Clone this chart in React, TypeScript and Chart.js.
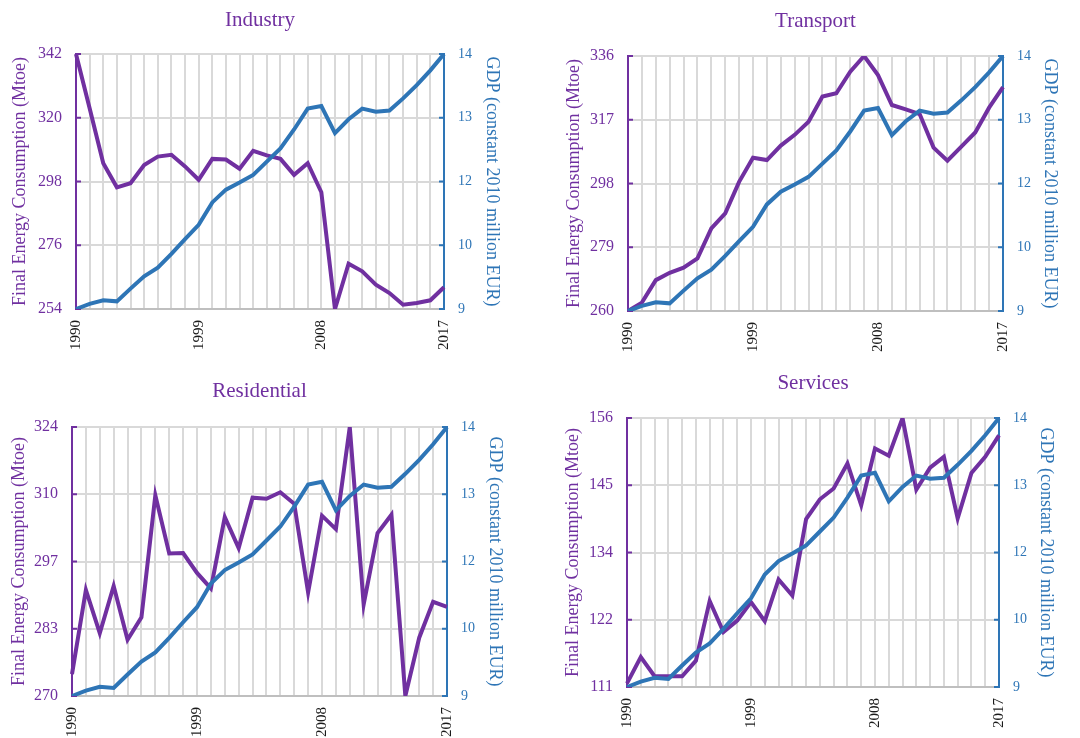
import React, { useEffect, useRef } from 'react';
import { Chart, registerables } from 'chart.js';

Chart.register(...registerables);

// ---------------- data ----------------
const years = ['1990', '1991', '1992', '1993', '1994', '1995', '1996', '1997', '1998', '1999', '2000', '2001', '2002', '2003', '2004', '2005', '2006', '2007', '2008', '2009', '2010', '2011', '2012', '2013', '2014', '2015', '2016', '2017'];
const shownYears = ['1990', '1999', '2008', '2017'];

const gdp = [9.0, 9.1, 9.17, 9.15, 9.4, 9.64, 9.81, 10.08, 10.37, 10.65, 11.09, 11.34, 11.48, 11.63, 11.89, 12.15, 12.52, 12.93, 12.98, 12.45, 12.72, 12.93, 12.87, 12.89, 13.13, 13.39, 13.68, 14.0];

const industry = [342, 323.3, 304.3, 296, 297.4, 303.7, 306.6, 307.2, 303.2, 298.6, 305.8, 305.6, 302.4, 308.6, 307, 305.8, 300.3, 304.3, 294.3, 254, 269.6, 267, 262.4, 259.5, 255.5, 256.1, 257, 261.5];
const transport = [260, 262.5, 269.2, 271.4, 272.9, 275.7, 284.6, 289.1, 298.5, 305.7, 305, 309.3, 312.5, 316.4, 323.9, 324.9, 331.3, 336, 330.3, 321.4, 320.1, 318.7, 308.7, 304.8, 309, 313.2, 320.6, 326.7];
const residential = [274.4, 291.3, 282.6, 292.1, 281.3, 285.8, 310.3, 298.6, 298.7, 294.7, 291.6, 305.9, 299.7, 309.8, 309.6, 310.9, 308.6, 290.8, 306.2, 303.5, 324, 288.4, 302.7, 306.4, 270, 281.7, 288.9, 287.9];
const services = [111.6, 116, 112.8, 112.8, 112.8, 115.4, 125.4, 120.2, 122.1, 125.2, 122, 129, 126.3, 139.1, 142.4, 144.2, 148.4, 141.4, 150.9, 149.7, 156, 144, 147.7, 149.5, 139.2, 146.8, 149.5, 153.1];

// tick values and labels
const gdpTickValues = [9, 10.25, 11.5, 12.75, 14];
const gdpTickLabels = ['9', '10', '12', '13', '14'];
const industryTickValues = [254, 276, 298, 320, 342];
const industryTickLabels = ['254', '276', '298', '320', '342'];
const transportTickValues = [260, 279, 298, 317, 336];
const transportTickLabels = ['260', '279', '298', '317', '336'];
const residentialTickValues = [270, 283.5, 297, 310.5, 324];
const residentialTickLabels = ['270', '283', '297', '310', '324'];
const servicesTickValues = [111, 122.25, 133.5, 144.75, 156];
const servicesTickLabels = ['111', '122', '134', '145', '156'];

const leftTitle = 'Final Energy Consumption (Mtoe)';
const rightTitle = 'GDP (constant 2010 million EUR)';

// ---------------- styles ----------------
const PURPLE = '#7030A0';
const BLUE = '#2E75B6';
const GRID = '#D9D9D9';
const FONT = "'Liberation Serif', 'Times New Roman', serif";

type Panel = {
  title: string;
  values: number[];
  tickValues: number[];
  tickLabels: string[];
  x: number; y: number;
  axisL: number; axisR: number; xH: number;
  tTop: number; tBottom: number;
  lPad: number; rPad: number;
};

const panels: Panel[] = [
  { title: 'Industry', values: industry, tickValues: industryTickValues, tickLabels: industryTickLabels,
    x: 0, y: 0, axisL: 76, axisR: 96, xH: 60, tTop: 7.4, tBottom: 21.4, lPad: 9.2, rPad: 37.2 },
  { title: 'Transport', values: transport, tickValues: transportTickValues, tickLabels: transportTickLabels,
    x: 540, y: 0, axisL: 88, axisR: 77, xH: 58, tTop: 8.4, tBottom: 22.4, lPad: 23.7, rPad: 19.7 },
  { title: 'Residential', values: residential, tickValues: residentialTickValues, tickLabels: residentialTickLabels,
    x: 0, y: 369, axisL: 72, axisR: 93, xH: 42, tTop: 10, tBottom: 22.8, lPad: 8.2, rPad: 34.7 },
  { title: 'Services', values: services, tickValues: servicesTickValues, tickLabels: servicesTickLabels,
    x: 540, y: 369, axisL: 87, axisR: 81, xH: 51, tTop: 2, tBottom: 21.8, lPad: 22.7, rPad: 23.7 },
];

const innerTicks = {
  id: 'innerTicks',
  beforeDatasetsDraw(chart: any) {
    const ctx = chart.ctx;
    const defs: [string, string, number][] = [['yL', PURPLE, 1], ['yR', BLUE, -1]];
    ctx.save();
    ctx.lineWidth = 2;
    for (const [id, color, dir] of defs) {
      const s = chart.scales[id];
      if (!s) continue;
      const x0 = id === 'yL' ? chart.chartArea.left : chart.chartArea.right;
      ctx.strokeStyle = color;
      s.ticks.forEach((t: any) => {
        const yy = s.getPixelForValue(t.value);
        ctx.beginPath();
        ctx.moveTo(x0, yy);
        ctx.lineTo(x0 + dir * 5, yy);
        ctx.stroke();
      });
    }
    ctx.restore();
  },
};

function PanelChart({ p }: { p: Panel }) {
  const ref = useRef<HTMLCanvasElement>(null);
  useEffect(() => {
    if (!ref.current) return;
    const chart = new Chart(ref.current, {
      type: 'line',
      data: {
        labels: years,
        datasets: [
          { label: 'GDP', data: gdp, yAxisID: 'yR', borderColor: BLUE, backgroundColor: BLUE,
            borderWidth: 4, pointRadius: 0, tension: 0, fill: false },
          { label: p.title, data: p.values, yAxisID: 'yL', borderColor: PURPLE, backgroundColor: PURPLE,
            borderWidth: 4, pointRadius: 0, tension: 0, fill: false },
        ],
      },
      options: {
        responsive: false,
        animation: false,
        devicePixelRatio: 1,
        layout: { padding: 0 },
        plugins: {
          legend: { display: false },
          tooltip: { enabled: false },
          title: {
            display: true, text: p.title, color: PURPLE, fullSize: false,
            font: { family: FONT, size: 21, weight: 'normal', lineHeight: 1.2 },
            padding: { top: p.tTop, bottom: p.tBottom },
          },
        },
        scales: {
          x: {
            type: 'category',
            offset: false,
            grid: { display: true, color: GRID, lineWidth: 2, drawTicks: false },
            border: { display: true, color: '#BFBFBF', width: 2 },
            ticks: {
              autoSkip: false, minRotation: 90, maxRotation: 90, padding: 11, color: '#1a1a1a',
              font: { family: FONT, size: 15 },
              callback: (v: any, i: number) => (shownYears.includes(years[i]) ? years[i] : ''),
            },
            afterFit: (s: any) => { s.height = p.xH; },
          },
          yL: {
            type: 'linear', position: 'left',
            min: p.tickValues[0], max: p.tickValues[p.tickValues.length - 1],
            afterBuildTicks: (s: any) => { s.ticks = p.tickValues.map((v) => ({ value: v })); },
            grid: { display: true, color: GRID, lineWidth: 2, drawTicks: false },
            border: { display: true, color: PURPLE, width: 2 },
            ticks: {
              padding: 14, color: PURPLE, font: { family: FONT, size: 16 },
              callback: (v: any, i: number) => p.tickLabels[i],
            },
            title: { display: true, text: leftTitle, color: PURPLE, font: { family: FONT, size: 18, lineHeight: 1.2 },
              padding: { top: p.lPad, bottom: 0 } },
            afterFit: (s: any) => { s.width = p.axisL; },
          },
          yR: {
            type: 'linear', position: 'right',
            min: gdpTickValues[0], max: gdpTickValues[gdpTickValues.length - 1],
            afterBuildTicks: (s: any) => { s.ticks = gdpTickValues.map((v) => ({ value: v })); },
            grid: { display: false, drawTicks: false },
            border: { display: true, color: BLUE, width: 2 },
            ticks: {
              padding: 14, color: BLUE, font: { family: FONT, size: 14 },
              callback: (v: any, i: number) => gdpTickLabels[i],
            },
            title: { display: true, text: rightTitle, color: BLUE, font: { family: FONT, size: 18, lineHeight: 1.2 },
              padding: { top: p.rPad, bottom: 0 } },
            afterFit: (s: any) => { s.width = p.axisR; },
          },
        },
      },
      plugins: [innerTicks],
    } as any);
    return () => chart.destroy();
  }, [p]);
  return (
    <canvas
      ref={ref}
      width={540}
      height={369}
      style={{ position: 'absolute', left: p.x, top: p.y, width: 540, height: 369, display: 'block' }}
    />
  );
}

export default function App() {
  return (
    <div style={{ position: 'absolute', left: 0, top: 0, width: 1080, height: 738, background: '#fff' }}>
      {panels.map((p) => (
        <PanelChart key={p.title} p={p} />
      ))}
    </div>
  );
}
